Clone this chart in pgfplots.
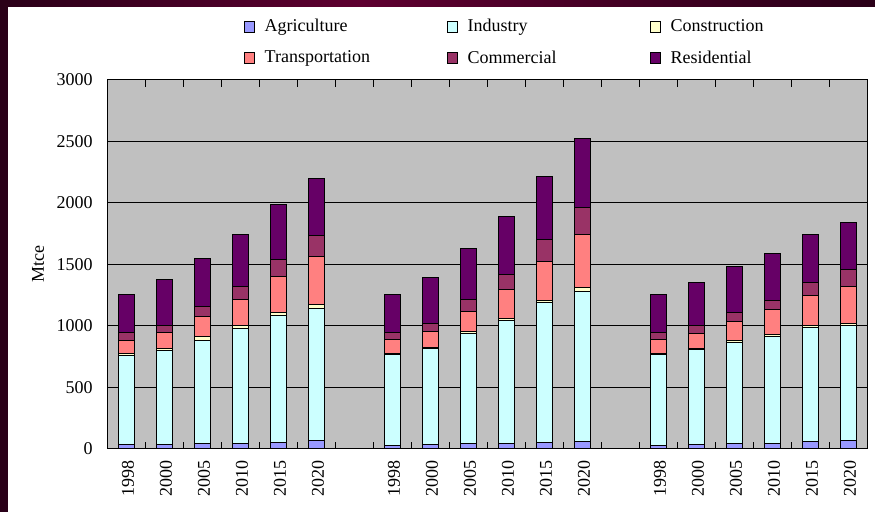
\documentclass[border=0pt]{standalone}
\usepackage{pgfplots}
\pgfplotsset{compat=1.18}
\usepackage{pgfplotstable}
\usepackage{fontspec}
\setmainfont{Liberation Serif}
\definecolor{agri}{HTML}{9999FF}
\definecolor{indu}{HTML}{CCFFFF}
\definecolor{cons}{HTML}{FFFFCC}
\definecolor{tran}{HTML}{FF8080}
\definecolor{comm}{HTML}{993366}
\definecolor{resi}{HTML}{660066}
\definecolor{plotbg}{HTML}{C0C0C0}
\definecolor{bgdark}{HTML}{2A0018}
\definecolor{bgmid}{HTML}{5E0030}

\pgfplotstableread{
x A I C T Co R
0 35 729 14 108 57 309
1 35 767 11 130 65 366
2 43 843 25 165 81 390
3 43 935 25 211 108 421
4 54 1030 24 296 138 447
5 68 1076 27 393 170 469
7 30 738 8 112 59 310
8 35 782 11 128 65 372
9 41 895 17 165 95 413
10 43 1002 14 236 125 469
11 54 1135 19 318 179 510
12 62 1219 33 429 222 562
14 32 738 8 114 57 305
15 38 770 11 116 65 357
16 46 816 19 154 76 370
17 46 865 16 203 81 378
18 62 922 19 246 108 389
19 68 932 22 302 133 384
}\data

\newcommand\legent[1]{\makebox[92pt][l]{\hspace*{3pt}#1}}
\begin{document}
\fontsize{9}{11}\selectfont
\begin{tikzpicture}
\path[use as bounding box] (0pt,0pt) rectangle (437.5pt,256pt);
\fill[bgdark] (0pt,0pt) rectangle (437.5pt,256pt);
\shade[left color=bgdark, right color=bgmid] (0pt,252.5pt) rectangle (180pt,256pt);
\shade[left color=bgmid, right color=bgdark] (180pt,252.5pt) rectangle (437.5pt,256pt);
\fill[white] (4pt,0pt) rectangle (437.5pt,252.5pt);
\begin{axis}[
  at={(54pt,31.5pt)}, anchor=south west,
  scale only axis, width=380pt, height=184.5pt,
  ybar stacked, bar width=8pt,
  axis background/.style={fill=plotbg},
  axis line style={black, line width=0.5pt},
  ymin=0, ymax=3000, ytick={0,500,...,3000},
  ymajorgrids, major grid style={black, line width=0.5pt},
  xmin=-0.5, xmax=19.5,
  xtick={0,1,2,3,4,5,7,8,9,10,11,12,14,15,16,17,18,19},
  xticklabels={1998,2000,2005,2010,2015,2020,1998,2000,2005,2010,2015,2020,1998,2000,2005,2010,2015,2020},
  minor xtick={-0.5,0.5,...,19.5},
  tick align=inside,
  major tick length=0pt, minor tick length=3.5pt,
  minor tick style={black, line width=0.5pt},
  xticklabel style={rotate=90, anchor=east, xshift=-2.5pt, yshift=-0.5pt},
  yticklabel style={xshift=-4.5pt},
  /pgf/number format/assume math mode=true,
  /pgf/number format/1000 sep={},
  ylabel={Mtce},
  every axis y label/.style={at={(rel axis cs:-0.092,0.5)}, rotate=90, anchor=center},
  legend columns=3,
  legend style={at={(rel axis cs:0.178,1.176)}, anchor=north west, draw=none, fill=none, inner sep=0pt, row sep=4pt, font=\fontsize{9}{11}\selectfont},
  legend cell align=left,
  legend image code/.code={\draw[#1, draw=black, line width=0.5pt] (0pt,-2.75pt) rectangle (5pt,2.75pt);},
  every axis plot/.append style={draw=black, line width=0.5pt},
]
\addplot[fill=agri] table[x=x, y=A] {\data};
\addlegendentry{\legent{Agriculture}}
\addplot[fill=indu] table[x=x, y=I] {\data};
\addlegendentry{\legent{Industry}}
\addplot[fill=cons] table[x=x, y=C] {\data};
\addlegendentry{\makebox[60pt][l]{\hspace*{3pt}Construction}}
\addplot[fill=tran] table[x=x, y=T] {\data};
\addlegendentry{\legent{Transportation}}
\addplot[fill=comm] table[x=x, y=Co] {\data};
\addlegendentry{\legent{Commercial}}
\addplot[fill=resi] table[x=x, y=R] {\data};
\addlegendentry{\makebox[60pt][l]{\hspace*{3pt}Residential}}
\end{axis}
\end{tikzpicture}
\end{document}
